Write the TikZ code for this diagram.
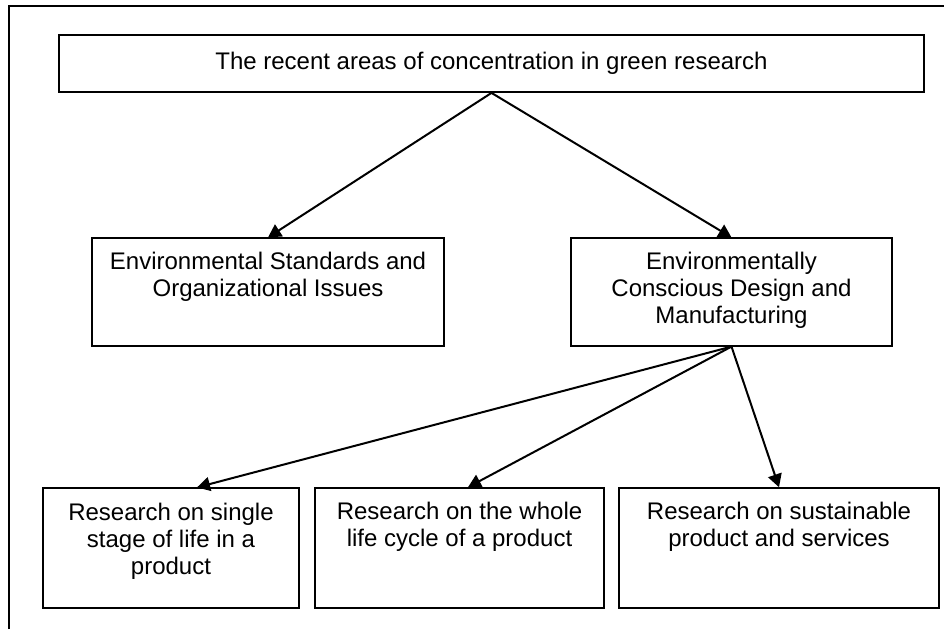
\documentclass[tikz,border=0pt]{standalone}
\usepackage{fontspec}
\setmainfont{Liberation Sans}
\usetikzlibrary{arrows.meta,positioning}

\tikzset{
	area/.style={draw, line width=1.2pt, inner sep=0pt},
	areatext/.style={align=center, inner sep=0pt, font=\fontsize{24}{27}\selectfont},
	link/.style={line width=2pt, -{Triangle[length=13pt,width=14pt]}}
}

\begin{document}
\begin{tikzpicture}[x=1pt,y=-1pt,node distance=15pt]

	\useasboundingbox (0,0) rectangle (944,629);

	% Frame
	\draw[line width=2.2pt] (9,629) -- (9,6) -- (944,6);

	% Root
	\node[area, line width=1.8pt, minimum width=865pt, minimum height=57pt, areatext] (root) at (491.5,63.5) {The recent areas of concentration in green research};

	% Second level
	\node[area, minimum width=352pt, minimum height=108pt] (standards) at (268,292) {};
	\node[areatext, below=of standards.north] (standards-text) {Environmental Standards and\\Organizational Issues};
	\node[area, minimum width=321pt, minimum height=108pt] (ecdm) at (731.5,292) {};
	\node[areatext, below=of ecdm.north] (ecdm-text) {Environmentally\\Conscious Design and\\Manufacturing};

	% Third level
	\node[area, minimum width=256pt, minimum height=120pt] (single) at (171,548) {};
	\node[areatext, below=of single.north] (single-text) {Research on single\\stage of life in a\\product};
	\node[area, line width=1.6pt, minimum width=289pt, minimum height=120pt] (whole) at (459.5,548) {};
	\node[areatext, below=of whole.north] (whole-text) {Research on the whole\\life cycle of a product};
	\node[area, line width=1.6pt, minimum width=320pt, minimum height=120pt] (sustain) at (779,548) {};
	\node[areatext, below=of sustain.north] (sustain-text) {Research on sustainable\\product and services};

	% Links
	\draw[link] (root.south) -- (standards.north);
	\draw[link] (root.south) -- (ecdm.north);
	\draw[link] (ecdm.south) -- ([xshift=26pt]single.north);
	\draw[link] (ecdm.south) -- ([xshift=8.5pt]whole.north);
	\draw[link] (ecdm.south) -- (sustain.north);
\end{tikzpicture}
\end{document}
